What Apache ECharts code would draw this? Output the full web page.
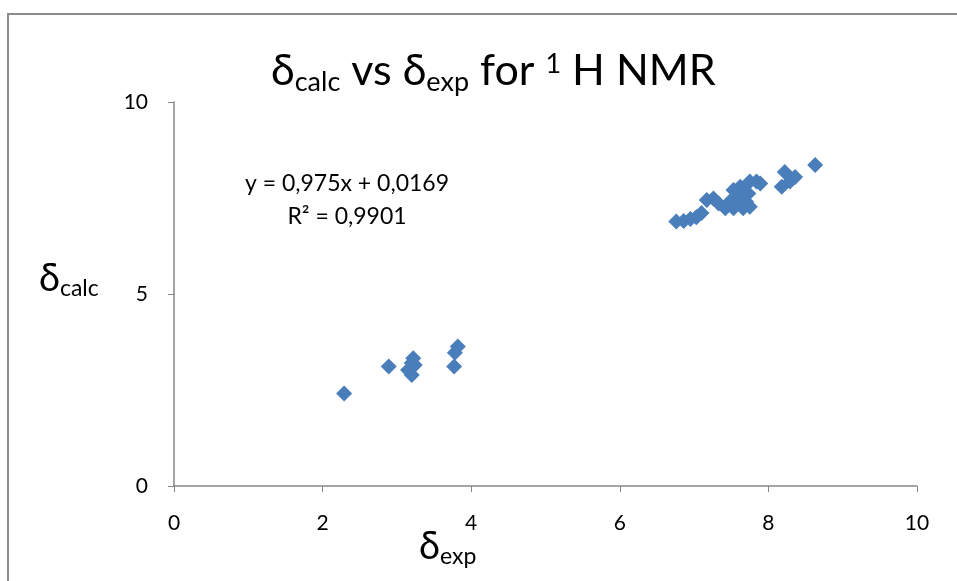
<!DOCTYPE html>
<html>
<head>
<meta charset="utf-8">
<script src="https://cdn.jsdelivr.net/npm/echarts@6/dist/echarts.min.js"></script>
<style>
  html, body { margin: 0; padding: 0; background: #fff; }
  #chart { width: 957px; height: 581px; }
</style>
</head>
<body>
<div id="chart"></div>
<script>
var expShift = [2.29, 2.89, 3.22, 3.20, 3.24, 3.15, 3.20, 3.82, 3.78, 3.77,
  6.76, 6.86, 6.95, 7.03, 7.10, 7.17, 7.26, 7.33, 7.42, 7.53, 7.66, 7.75,
  7.53, 7.62, 7.75, 7.84, 7.64, 7.73, 7.57, 7.48, 7.70, 7.89,
  8.18, 8.29, 8.22, 8.36, 8.63];
var calcShift = [2.41, 3.11, 3.33, 3.20, 3.15, 3.02, 2.89, 3.63, 3.47, 3.11,
  6.89, 6.90, 6.95, 7.00, 7.11, 7.45, 7.49, 7.36, 7.23, 7.23, 7.23, 7.27,
  7.71, 7.79, 7.93, 7.93, 7.51, 7.62, 7.45, 7.40, 7.40, 7.88,
  7.79, 7.93, 8.18, 8.05, 8.36];
var xTicks = [0, 2, 4, 6, 8, 10];
var yTicks = [0, 5, 10];
var fitLines = ['y = 0,975x + 0,0169', 'R² = 0,9901'];

var points = expShift.map(function (x, i) { return [x, calcShift[i]]; });
var font = 'Lato, "Open Sans", sans-serif';

// main text, subscript and superscript pieces for rich labels
function richParts(size, sub) {
  return {
    m: { fontFamily: font, fontSize: size, fontWeight: 'normal', color: '#000', fill: '#000', verticalAlign: 'top', lineHeight: size * 1.2 },
    s: { fontFamily: font, fontSize: sub, fontWeight: 'normal', color: '#000', fill: '#000', verticalAlign: 'top', lineHeight: size * 1.2, padding: [Math.round(size * 0.45), 0, 0, 0] },
    p: { fontFamily: font, fontSize: sub, fontWeight: 'normal', color: '#000', fill: '#000', verticalAlign: 'top', lineHeight: size * 1.2, padding: [1, 0, 0, 0] }
  };
}

var chart = echarts.init(document.getElementById('chart'));
chart.setOption({
  animation: false,
  backgroundColor: '#fff',
  title: {
    left: 266,
    top: 45,
    text: '{m|δ}{s|calc}{m| vs δ}{s|exp}{m| for }{p|1}{m| H NMR}',
    textStyle: { rich: richParts(43, 27) }
  },
  grid: { left: 174, right: 40, top: 102, bottom: 95 },
  xAxis: {
    type: 'value', min: 0, max: 10, interval: 2,
    axisLine: { show: true, lineStyle: { color: '#868686', width: 1.5 } },
    axisTick: { show: true, length: 6, lineStyle: { color: '#868686' } },
    splitLine: { show: false },
    axisLabel: {
      margin: 27, fontFamily: font, fontSize: 21, color: '#000',
      formatter: function (v) { return xTicks.indexOf(v) >= 0 ? String(v) : ''; }
    }
  },
  yAxis: {
    type: 'value', min: 0, max: 10, interval: 5,
    axisLine: { show: true, lineStyle: { color: '#868686', width: 1.5 } },
    axisTick: { show: true, length: 6, lineStyle: { color: '#868686' } },
    splitLine: { show: false },
    axisLabel: {
      margin: 26, fontFamily: font, fontSize: 21, color: '#000',
      formatter: function (v) { return yTicks.indexOf(v) >= 0 ? String(v) : ''; }
    }
  },
  series: [{
    type: 'scatter',
    symbol: 'diamond',
    symbolSize: 16,
    itemStyle: { color: '#4A7EBB', opacity: 1 },
    data: points
  }],
  graphic: [
    {
      type: 'rect', silent: true,
      shape: { x: 8, y: 14, width: 1200, height: 800 },
      style: { fill: 'none', stroke: '#8a8a8a', lineWidth: 2 }
    },
    {
      type: 'text', x: 347, y: 184,
      style: {
        text: fitLines[0], align: 'center', verticalAlign: 'middle',
        fontFamily: font, fontSize: 23, fill: '#000'
      }
    },
    {
      type: 'text', x: 347, y: 217,
      style: {
        text: fitLines[1], align: 'center', verticalAlign: 'middle',
        fontFamily: font, fontSize: 23, fill: '#000'
      }
    },
    {
      type: 'text', left: 39, top: 260,
      style: { text: '{m|δ}{s|calc}', rich: richParts(38, 23) }
    },
    {
      type: 'text', left: 419, top: 528,
      style: { text: '{m|δ}{s|exp}', rich: richParts(38, 23) }
    }
  ]
});
</script>
</body>
</html>
